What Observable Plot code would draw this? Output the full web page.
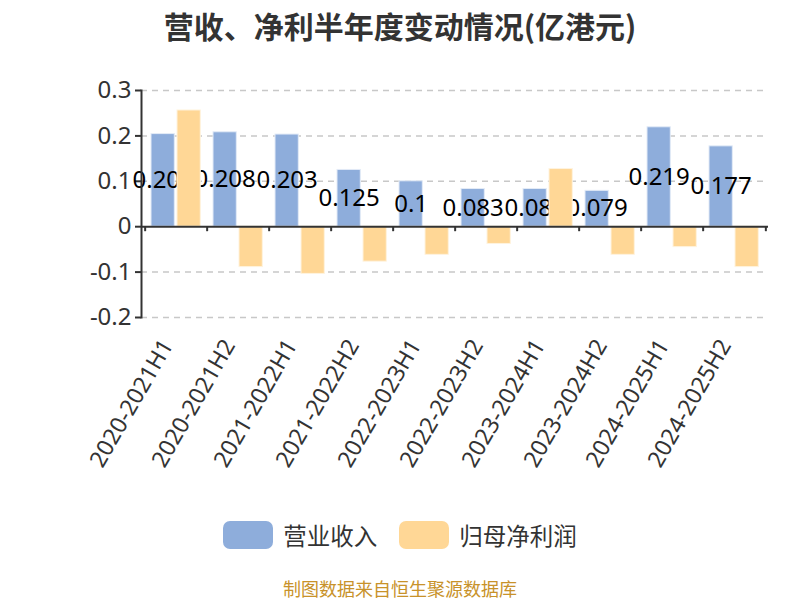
<!DOCTYPE html>
<html>
<head>
<meta charset="utf-8">
<script src="https://cdn.jsdelivr.net/npm/d3@7"></script>
<script src="https://cdn.jsdelivr.net/npm/@observablehq/plot@0.6"></script>
<style>
  body { margin: 0; background: #fff; }
  #wrap { width: 800px; height: 600px; position: relative; font-family: "Noto Sans", "Noto Sans CJK SC", sans-serif; }
  #title { height: 50px; line-height: 50px; text-align: center; font-size: 30px; font-weight: bold; color: #333; font-family: "Noto Sans CJK SC", sans-serif; }
  #legend { display: flex; justify-content: center; align-items: center; height: 40px; margin-top: 25px; font-family: "Noto Sans CJK SC", sans-serif; font-size: 23.5px; color: #333; }
  .sw { width: 50px; height: 28px; border-radius: 7px; margin-right: 10px; }
  .item { display: flex; align-items: center; margin: 0 11px; }
  #caption { text-align: center; font-size: 18px; line-height: 22px; color: #c8922a; margin-top: 22px; font-family: "Noto Sans CJK SC", sans-serif; }
</style>
</head>
<body>
<div id="wrap">
  <div id="title">营收、净利半年度变动情况(亿港元)</div>
  <div id="chart"></div>
  <div id="legend"></div>
  <div id="caption">制图数据来自恒生聚源数据库</div>
</div>
<script>
const categories = ["2020-2021H1","2020-2021H2","2021-2022H1","2021-2022H2","2022-2023H1","2022-2023H2","2023-2024H1","2023-2024H2","2024-2025H1","2024-2025H2"];
const revenue = [0.204, 0.208, 0.203, 0.125, 0.1, 0.083, 0.083, 0.079, 0.219, 0.177];
const netProfit = [0.256, -0.089, -0.104, -0.077, -0.062, -0.038, 0.127, -0.062, -0.045, -0.089];
const yTicks = [-0.2, -0.1, 0, 0.1, 0.2, 0.3];
const seriesNames = ["营业收入", "归母净利润"];
const colors = ["#8eaddb", "#ffd796"];

const W = 800, H = 440, mL = 141, mR = 32, mT = 40, mB = 173;
const bw = (W - mL - mR) / categories.length;

const revData = categories.map((c, i) => ({cat: c, value: revenue[i]}));
const npData = categories.map((c, i) => ({cat: c, value: netProfit[i]}));

const chart = Plot.plot({
  width: W, height: H,
  marginLeft: mL, marginRight: mR, marginTop: mT, marginBottom: mB,
  style: {fontFamily: "'Noto Sans', 'Noto Sans CJK SC', sans-serif", color: "#333", background: "#fff"},
  x: {domain: categories, padding: 0, label: null},
  y: {domain: [-0.2, 0.3], label: null},
  marks: [
    Plot.gridY(yTicks.filter(d => d !== 0), {stroke: "#c8c8c8", strokeOpacity: 1, strokeDasharray: "6,5", strokeWidth: 1.5}),
    Plot.axisY({ticks: yTicks, tickFormat: d => String(d), tickSize: 6, tickPadding: 4, fontSize: 24, stroke: "#333", strokeWidth: 2}),
    Plot.barY(revData, {x: "cat", y: "value", fill: colors[0], stroke: "#e3ebf7", strokeWidth: 1, insetLeft: 6, insetRight: bw - 30}),
    Plot.text(revData, {x: "cat", y: d => d.value / 2, text: d => String(d.value), dx: 6 + 12 - bw / 2, fontSize: 24, fill: "#000"}),
    Plot.barY(npData, {x: "cat", y: "value", fill: colors[1], stroke: "#fff3de", strokeWidth: 1, insetLeft: 32, insetRight: bw - 56}),
    Plot.ruleY([0], {stroke: "#333", strokeWidth: 2}),
    Plot.ruleX(categories, {x: d => d, dx: -bw / 2, y1: 0, y2: -0.011, stroke: "#333", strokeWidth: 2}),
    Plot.ruleX(categories.slice(-1), {x: d => d, dx: bw / 2, y1: 0, y2: -0.011, stroke: "#333", strokeWidth: 2}),
    Plot.frame({anchor: "left", stroke: "#333", strokeWidth: 2}),
    Plot.axisX({anchor: "bottom", tickSize: 0, tickRotate: -60, tickPadding: 24, fontSize: 23, dx: -9})
  ]
});
document.getElementById("chart").appendChild(chart);

const legend = document.getElementById("legend");
seriesNames.forEach((n, i) => {
  const it = document.createElement("div");
  it.className = "item";
  it.innerHTML = `<div class="sw" style="background:${colors[i]}"></div><span>${n}</span>`;
  legend.appendChild(it);
});
</script>
</body>
</html>
